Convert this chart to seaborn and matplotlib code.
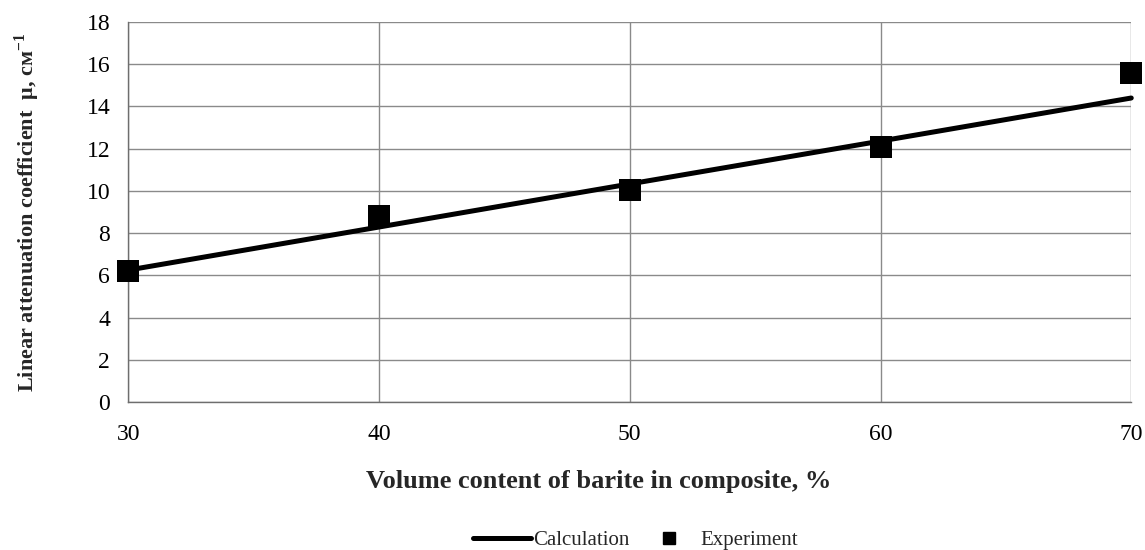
import matplotlib
matplotlib.use("Agg")
import matplotlib.pyplot as plt
import seaborn as sns
import pandas as pd
from matplotlib.lines import Line2D

# Volume content of barite (%), calculated and measured attenuation (cm^-1)
barite = [30, 40, 50, 60, 70]
calculation = [6.25, 8.29, 10.33, 12.36, 14.4]
experiment = [6.2, 8.8, 10.05, 12.1, 15.6]

y_ticks = [0, 2, 4, 6, 8, 10, 12, 14, 16, 18]
x_ticks = [30, 40, 50, 60, 70]

sns.set_theme(style="white")
plt.rcParams["font.family"] = ["Liberation Serif", "DejaVu Serif"]
plt.rcParams["mathtext.fontset"] = "custom"
plt.rcParams["mathtext.rm"] = "Liberation Serif"
plt.rcParams["mathtext.bf"] = "Liberation Serif:bold"

df_calc = pd.DataFrame({"x": barite, "y": calculation})
df_exp = pd.DataFrame({"x": barite, "y": experiment})

fig = plt.figure(figsize=(11.45, 5.5), dpi=100)
ax = fig.add_axes([0.112, 0.269, 0.876, 0.691])

sns.lineplot(data=df_calc, x="x", y="y", ax=ax, color="black", linewidth=3.6,
             zorder=3, clip_on=False)
sns.scatterplot(data=df_exp, x="x", y="y", ax=ax, color="black", marker="s",
                s=240, edgecolor="black", linewidth=0, zorder=4, clip_on=False)

ax.set_xlim(30, 70)
ax.set_ylim(0, 18)
ax.set_xticks(x_ticks)
ax.set_yticks(y_ticks)
ax.grid(True, color="#8a8a8a", linewidth=1.0)
ax.set_axisbelow(True)

for side in ["top", "right"]:
    ax.spines[side].set_visible(False)
for side in ["left", "bottom"]:
    ax.spines[side].set_color("#6e6e6e")
    ax.spines[side].set_linewidth(1.0)

ax.tick_params(axis="both", which="major", direction="out", length=6,
               width=1.0, color="#6e6e6e", labelsize=17, colors="black")
ax.tick_params(axis="x", pad=10)
ax.tick_params(axis="y", pad=7)

ax.set_xlabel("Volume content of barite in composite, %", fontsize=19,
              fontweight="bold")
ax.xaxis.set_label_coords(0.469, -0.178)
ax.set_ylabel(r"Linear attenuation coefficient  μ, см$^{\mathbf{-1}}$",
              fontsize=16, fontweight="bold")
ax.yaxis.set_label_coords(-0.086, 0.5)

handles = [
    Line2D([0], [0], color="black", linewidth=3.6),
    Line2D([0], [0], color="black", marker="s", linestyle="none", markersize=9),
]
fig.legend(handles, ["Calculation", "Experiment"], loc="center",
           bbox_to_anchor=(0.555, 0.017), ncol=2, frameon=False, fontsize=15,
           handlelength=2.75, handletextpad=0.1, columnspacing=0.55,
           borderpad=0.0)

fig.savefig("out.png", dpi=100)
